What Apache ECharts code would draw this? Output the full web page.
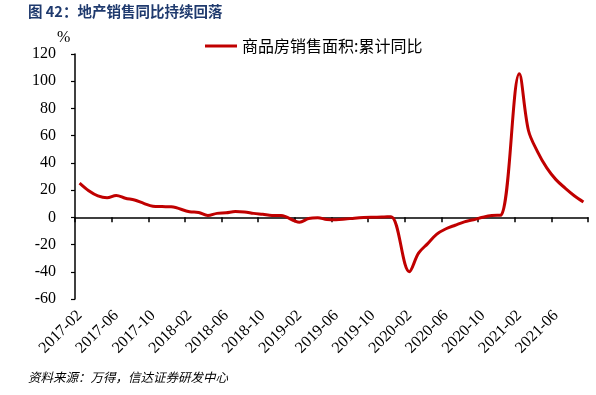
<!DOCTYPE html>
<html>
<head>
<meta charset="utf-8">
<script src="https://cdn.jsdelivr.net/npm/echarts@6/dist/echarts.min.js"></script>
<style>
html,body{margin:0;padding:0;background:#fff;}
#chart{width:596px;height:395px;}
</style>
</head>
<body>
<div id="chart"></div>
<script>
const categories = [
  '2017-02','2017-03','2017-04','2017-05','2017-06','2017-07','2017-08','2017-09','2017-10','2017-11','2017-12',
  '2018-01','2018-02','2018-03','2018-04','2018-05','2018-06','2018-07','2018-08','2018-09','2018-10','2018-11','2018-12',
  '2019-01','2019-02','2019-03','2019-04','2019-05','2019-06','2019-07','2019-08','2019-09','2019-10','2019-11','2019-12',
  '2020-01','2020-02','2020-03','2020-04','2020-05','2020-06','2020-07','2020-08','2020-09','2020-10','2020-11','2020-12',
  '2021-01','2021-02','2021-03','2021-04','2021-05','2021-06','2021-07','2021-08','2021-09'
];
const values2017 = [25.1, 19.5, 15.7, 14.3, 16.1, 14.0, 12.7, 10.3, 8.2, 7.9, 7.7];
const values2018 = [null, 4.1, 3.6, 1.3, 2.9, 3.3, 4.2, 4.0, 2.9, 2.2, 1.4, 1.3];
const values2019 = [null, -3.6, -0.9, -0.3, -1.6, -1.8, -1.3, -0.6, -0.1, 0.1, 0.2, 0.5];
const values2020 = [null, -39.9, -26.3, -19.3, -12.3, -8.4, -5.8, -3.3, -1.8, 0.0, 1.3, 1.6];
const values2021 = [null, 105.5, 63.8, 48.1, 36.3, 27.7, 21.5, 15.9, 11.3];
const seriesValues = [].concat(values2017, values2018, values2019, values2020, values2021);

const seriesName = '商品房销售面积:累计同比';
const titleText = '图 42：地产销售同比持续回落';
const sourceText = '资料来源：万得，信达证券研发中心';

const serif = '"Liberation Serif","Times New Roman","Noto Sans CJK SC",serif';
const chart = echarts.init(document.getElementById('chart'), null, {renderer: 'canvas'});
chart.setOption({
  backgroundColor: '#fff',
  animation: false,
  grid: {left: 75, right: 8, top: 54, bottom: 96, containLabel: false},
  legend: {
    data: [seriesName],
    left: 200, top: 33,
    icon: 'rect', itemWidth: 32, itemHeight: 3, itemGap: 5,
    textStyle: {fontFamily: '"Noto Sans CJK SC",sans-serif', fontSize: 16, color: '#000'}
  },
  graphic: [
    {type: 'text', left: 28, top: 4, style: {text: titleText, fontSize: 14.5, fontWeight: 'bold', fill: '#1F3A6E', fontFamily: '"Noto Sans CJK SC",sans-serif'}},
    {type: 'text', left: 57, top: 30, style: {text: '%', fontSize: 16, fill: '#000', fontFamily: serif}},
    {type: 'text', left: 28, top: 371, style: {text: sourceText, fontSize: 12.5, fontStyle: 'italic', fill: '#000', fontFamily: '"Noto Sans CJK SC",sans-serif'}}
  ],
  xAxis: [
    {
      type: 'category', data: categories, boundaryGap: true,
      axisLine: {show: true, onZero: true, lineStyle: {color: '#000', width: 1.5}},
      axisTick: {show: true, interval: 3, length: 5, lineStyle: {color: '#000', width: 1.5}},
      axisLabel: {show: false}
    },
    {
      type: 'category', data: categories, boundaryGap: true, position: 'bottom',
      axisLine: {show: false, onZero: false}, axisTick: {show: false},
      axisLabel: {interval: 3, rotate: 45, margin: 14, fontSize: 16, color: '#000', fontFamily: serif}
    }
  ],
  yAxis: {
    type: 'value', min: -60, max: 120, interval: 20,
    axisLine: {show: true, lineStyle: {color: '#000', width: 1.5}},
    axisTick: {show: true, length: 4, lineStyle: {color: '#000', width: 1.2}},
    splitLine: {show: false},
    axisLabel: {margin: 19, fontSize: 16, color: '#000', fontFamily: serif}
  },
  series: [{
    name: seriesName, type: 'line', xAxisIndex: 0, data: seriesValues,
    smooth: 0.35, connectNulls: true, showSymbol: false,
    lineStyle: {color: '#C00000', width: 3},
    itemStyle: {color: '#C00000'}
  }]
});
</script>
</body>
</html>
